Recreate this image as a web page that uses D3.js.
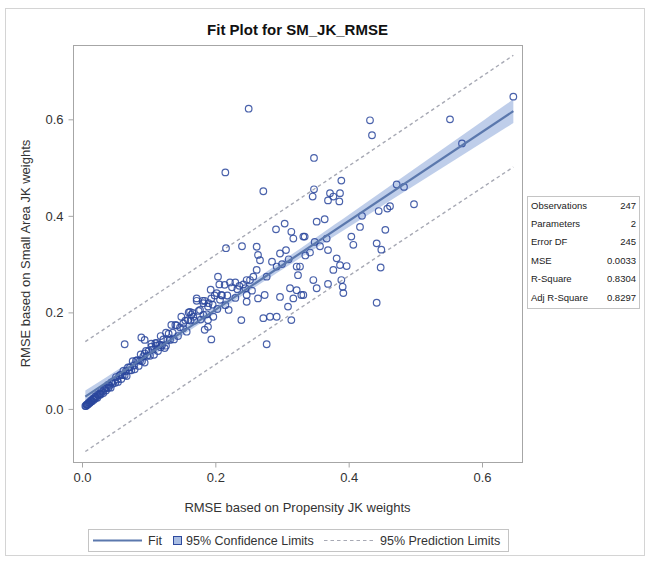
<!DOCTYPE html>
<html>
<head>
<meta charset="utf-8">
<script src="https://cdn.jsdelivr.net/npm/d3@7"></script>
<style>
  body { margin: 0; background: #fff; }
  svg { display: block; font-family: "Liberation Sans", Arial, sans-serif; }
</style>
</head>
<body>
<svg id="chart" width="650" height="561"></svg>
<script>
// Observations: [RMSE with propensity JK weights, RMSE with small-area JK weights]
const densePoints = [
  [0.005,0.006],[0.006,0.006],[0.007,0.008],[0.007,0.009],[0.008,0.009],
  [0.009,0.011],[0.009,0.009],[0.010,0.013],[0.011,0.012],[0.012,0.014],
  [0.012,0.013],[0.013,0.017],[0.014,0.016],[0.015,0.016],[0.016,0.020],
  [0.017,0.021],[0.018,0.019],[0.019,0.022],[0.020,0.026],[0.021,0.023],
  [0.022,0.026],[0.023,0.023],[0.024,0.030],[0.026,0.029],[0.027,0.032],
  [0.028,0.030],[0.029,0.038],[0.031,0.036],[0.032,0.033],[0.033,0.041],
  [0.035,0.043],[0.036,0.038],[0.037,0.043],[0.039,0.050],[0.040,0.044],
  [0.041,0.048],[0.043,0.044],[0.044,0.055],[0.046,0.052],[0.048,0.058],
  [0.050,0.054],[0.051,0.066],[0.053,0.061],[0.054,0.056],[0.056,0.069],
  [0.058,0.071],[0.059,0.062],[0.061,0.070],[0.062,0.079],[0.064,0.070],
  [0.066,0.078],[0.067,0.068],[0.069,0.086],[0.071,0.080],[0.072,0.086],
  [0.074,0.080],[0.076,0.099],[0.078,0.090],[0.079,0.082],[0.081,0.100],
  [0.083,0.101],[0.085,0.089],[0.087,0.100],[0.088,0.113],[0.090,0.099],
  [0.092,0.109],[0.094,0.096],[0.096,0.120],[0.098,0.110],[0.100,0.120],
  [0.102,0.110],[0.104,0.135],[0.106,0.123],[0.108,0.112],[0.110,0.136],
  [0.112,0.137],[0.114,0.120],[0.116,0.133],[0.118,0.151],[0.120,0.132],
  [0.122,0.144],[0.124,0.126],[0.126,0.158],[0.128,0.143],[0.130,0.156],
  [0.132,0.143],[0.134,0.174],[0.136,0.158],[0.138,0.144],[0.140,0.174],
  [0.142,0.173],[0.144,0.151],[0.147,0.169],[0.149,0.191],[0.152,0.167],
  [0.155,0.183],[0.157,0.160],[0.160,0.200],[0.163,0.183],[0.166,0.199],
  [0.169,0.183],[0.172,0.224],[0.175,0.203],[0.178,0.185],[0.181,0.224],
  [0.184,0.224],[0.187,0.196],[0.190,0.219],[0.193,0.247],[0.196,0.216],
  [0.199,0.235],[0.203,0.207],[0.206,0.258],[0.210,0.235],[0.214,0.257],
  [0.218,0.235],[0.222,0.262],[0.126,0.131]
];

const spreadPoints = [
  [0.647,0.647],[0.552,0.600],[0.570,0.550],[0.432,0.598],[0.435,0.567],
  [0.348,0.520],[0.389,0.473],[0.348,0.455],[0.346,0.440],[0.372,0.447],
  [0.377,0.440],[0.369,0.432],[0.386,0.430],[0.387,0.447],[0.472,0.465],
  [0.483,0.460],[0.498,0.424],[0.462,0.420],[0.458,0.415],[0.445,0.410],
  [0.352,0.388],[0.364,0.393],[0.417,0.377],[0.455,0.371],[0.332,0.357],
  [0.404,0.357],[0.407,0.340],[0.442,0.343],[0.449,0.330],[0.349,0.346],
  [0.357,0.337],[0.369,0.329],[0.342,0.324],[0.367,0.353],[0.327,0.295],
  [0.382,0.312],[0.387,0.298],[0.377,0.288],[0.397,0.296],[0.448,0.293],
  [0.347,0.267],[0.352,0.250],[0.369,0.259],[0.389,0.267],[0.391,0.253],
  [0.392,0.240],[0.332,0.236],[0.442,0.220],[0.250,0.622],[0.215,0.490],
  [0.272,0.451],[0.304,0.384],[0.291,0.372],[0.314,0.367],[0.317,0.353],
  [0.334,0.357],[0.216,0.333],[0.240,0.337],[0.262,0.336],[0.264,0.319],
  [0.267,0.308],[0.297,0.322],[0.306,0.329],[0.322,0.295],[0.324,0.277],
  [0.292,0.295],[0.262,0.288],[0.257,0.274],[0.252,0.267],[0.247,0.267],
  [0.204,0.274],[0.230,0.262],[0.236,0.255],[0.242,0.258],[0.233,0.248],
  [0.245,0.250],[0.225,0.252],[0.277,0.274],[0.322,0.246],[0.329,0.236],
  [0.312,0.250],[0.317,0.229],[0.309,0.212],[0.297,0.232],[0.264,0.229],
  [0.274,0.236],[0.247,0.222],[0.247,0.236],[0.172,0.229],[0.182,0.219],
  [0.177,0.205],[0.189,0.212],[0.194,0.229],[0.202,0.240],[0.209,0.236],
  [0.207,0.226],[0.162,0.201],[0.167,0.191],[0.159,0.184],[0.152,0.177],
  [0.182,0.195],[0.189,0.184],[0.197,0.191],[0.189,0.170],[0.184,0.164],
  [0.239,0.184],[0.272,0.188],[0.282,0.191],[0.292,0.191],[0.314,0.184],
  [0.194,0.144],[0.277,0.134],[0.064,0.134],[0.089,0.148],[0.094,0.143],
  [0.104,0.129],[0.094,0.115],[0.111,0.131],[0.118,0.128],[0.164,0.195],
  [0.285,0.305],[0.300,0.300],[0.310,0.310],[0.335,0.318],[0.420,0.400],
  [0.230,0.230],[0.215,0.215],[0.220,0.205],[0.255,0.245]
];

const points = densePoints.concat(spreadPoints);

// Fitted model and summary statistics
const fitIntercept = 0.021;
const fitSlope = 0.921;
const mse = 0.0033;
const tCrit = 1.9697;

const statLabels = ["Observations", "Parameters", "Error DF", "MSE", "R-Square", "Adj R-Square"];
const statValues = ["247", "2", "245", "0.0033", "0.8304", "0.8297"];

const xTicks = [0, 0.2, 0.4, 0.6];
const yTicks = [0, 0.2, 0.4, 0.6];

const title = "Fit Plot for SM_JK_RMSE";
const xTitle = "RMSE based on Propensity JK weights";
const yTitle = "RMSE based on Small Area JK weights";

const svg = d3.select("#chart");

const frame = { left: 73, right: 522, top: 45, bottom: 462 };

const x = d3.scaleLinear().domain([-0.0135, 0.66]).range([frame.left, frame.right]);
const y = d3.scaleLinear().domain([-0.11, 0.754]).range([frame.bottom, frame.top]);

// Outer graph border
svg.append("rect")
  .attr("x", 5.5).attr("y", 8.5).attr("width", 639).attr("height", 547)
  .attr("fill", "#fff").attr("stroke", "#d4d4d4");

// Title
svg.append("text")
  .attr("x", (frame.left + frame.right) / 2).attr("y", 35)
  .attr("text-anchor", "middle")
  .attr("font-size", 15).attr("font-weight", "bold").attr("fill", "#111")
  .text(title);

// Regression bands
const n = points.length;
const xbar = d3.mean(points, d => d[0]);
const sxx = d3.sum(points, d => (d[0] - xbar) ** 2);
const xMin = d3.min(points, d => d[0]);
const xMax = d3.max(points, d => d[0]);
const xGrid = d3.range(0, 61).map(i => xMin + (xMax - xMin) * i / 60);
const fitAt = v => fitIntercept + fitSlope * v;
const seMean = v => Math.sqrt(mse * (1 / n + (v - xbar) ** 2 / sxx));
const sePred = v => Math.sqrt(mse * (1 + 1 / n + (v - xbar) ** 2 / sxx));

const plot = svg.append("g");

plot.append("path")
  .datum(xGrid)
  .attr("d", d3.area()
    .x(v => x(v))
    .y0(v => y(fitAt(v) - tCrit * seMean(v)))
    .y1(v => y(fitAt(v) + tCrit * seMean(v))))
  .attr("fill", "#a9bde3").attr("fill-opacity", 0.75);

[-1, 1].forEach(sign => {
  plot.append("path")
    .datum(xGrid)
    .attr("d", d3.line().x(v => x(v)).y(v => y(fitAt(v) + sign * tCrit * sePred(v))))
    .attr("fill", "none").attr("stroke", "#a7a9b4")
    .attr("stroke-width", 1.4).attr("stroke-dasharray", "3.5,3");
});

// Observations
plot.append("g")
  .selectAll("circle")
  .data(points)
  .join("circle")
  .attr("cx", d => x(d[0]))
  .attr("cy", d => y(d[1]))
  .attr("r", 3.3)
  .attr("fill", "none")
  .attr("stroke", "#2a469c")
  .attr("stroke-opacity", 0.85)
  .attr("stroke-width", 1.2);

// Fit line
plot.append("path")
  .datum([xMin, xMax])
  .attr("d", d3.line().x(v => x(v)).y(v => y(fitAt(v))))
  .attr("fill", "none").attr("stroke", "#5b78ad").attr("stroke-width", 2.2);

// Plot frame
svg.append("rect")
  .attr("x", frame.left + 0.5).attr("y", frame.top + 0.5)
  .attr("width", frame.right - frame.left).attr("height", frame.bottom - frame.top)
  .attr("fill", "none").attr("stroke", "#a6a6a6");

// Axes
const xAxis = svg.append("g")
  .attr("transform", `translate(0,${frame.bottom + 0.5})`)
  .call(d3.axisBottom(x).tickValues(xTicks).tickFormat(d3.format(".1f")).tickSize(5).tickPadding(5));
const yAxis = svg.append("g")
  .attr("transform", `translate(${frame.left + 0.5},0)`)
  .call(d3.axisLeft(y).tickValues(yTicks).tickFormat(d3.format(".1f")).tickSize(5).tickPadding(5));

[xAxis, yAxis].forEach(g => {
  g.select(".domain").remove();
  g.selectAll(".tick line").attr("stroke", "#a6a6a6");
  g.selectAll(".tick text")
    .attr("font-family", "Liberation Sans, Arial, sans-serif")
    .attr("font-size", 13).attr("fill", "#333");
});

svg.append("text")
  .attr("x", (frame.left + frame.right) / 2).attr("y", 512)
  .attr("text-anchor", "middle").attr("font-size", 13).attr("fill", "#333")
  .text(xTitle);

svg.append("text")
  .attr("transform", `translate(30,${(frame.top + frame.bottom) / 2}) rotate(-90)`)
  .attr("text-anchor", "middle").attr("font-size", 13).attr("fill", "#333")
  .text(yTitle);

// Fit statistics inset
const stats = svg.append("g");
stats.append("rect")
  .attr("x", 527.5).attr("y", 196.5).attr("width", 112).attr("height", 112)
  .attr("fill", "#fff").attr("stroke", "#c4c4c4");
statLabels.forEach((lab, i) => {
  const yy = 208.5 + i * 18.4;
  stats.append("text").attr("x", 531).attr("y", yy)
    .attr("font-size", 9.5).attr("fill", "#222").text(lab);
  stats.append("text").attr("x", 636).attr("y", yy).attr("text-anchor", "end")
    .attr("font-size", 9.5).attr("fill", "#222").text(statValues[i]);
});

// Legend
const legend = svg.append("g");
legend.append("rect")
  .attr("x", 88.5).attr("y", 529.5).attr("width", 420).attr("height", 22)
  .attr("fill", "#fff").attr("stroke", "#c4c4c4");
legend.append("line")
  .attr("x1", 93).attr("x2", 142).attr("y1", 540.5).attr("y2", 540.5)
  .attr("stroke", "#5b78ad").attr("stroke-width", 2.2);
legend.append("text").attr("x", 148).attr("y", 545)
  .attr("font-size", 12.5).attr("fill", "#333").text("Fit");
legend.append("rect")
  .attr("x", 173.5).attr("y", 536.5).attr("width", 8).attr("height", 8)
  .attr("fill", "#a9bde3").attr("stroke", "#2e4a9e").attr("stroke-width", 1);
legend.append("text").attr("x", 186).attr("y", 545)
  .attr("font-size", 12.5).attr("fill", "#333").text("95% Confidence Limits");
legend.append("line")
  .attr("x1", 324).attr("x2", 373).attr("y1", 540.5).attr("y2", 540.5)
  .attr("stroke", "#a7a9b4").attr("stroke-width", 1.2).attr("stroke-dasharray", "3.5,3");
legend.append("text").attr("x", 380).attr("y", 545)
  .attr("font-size", 12.5).attr("fill", "#333").text("95% Prediction Limits");
</script>
</body>
</html>
